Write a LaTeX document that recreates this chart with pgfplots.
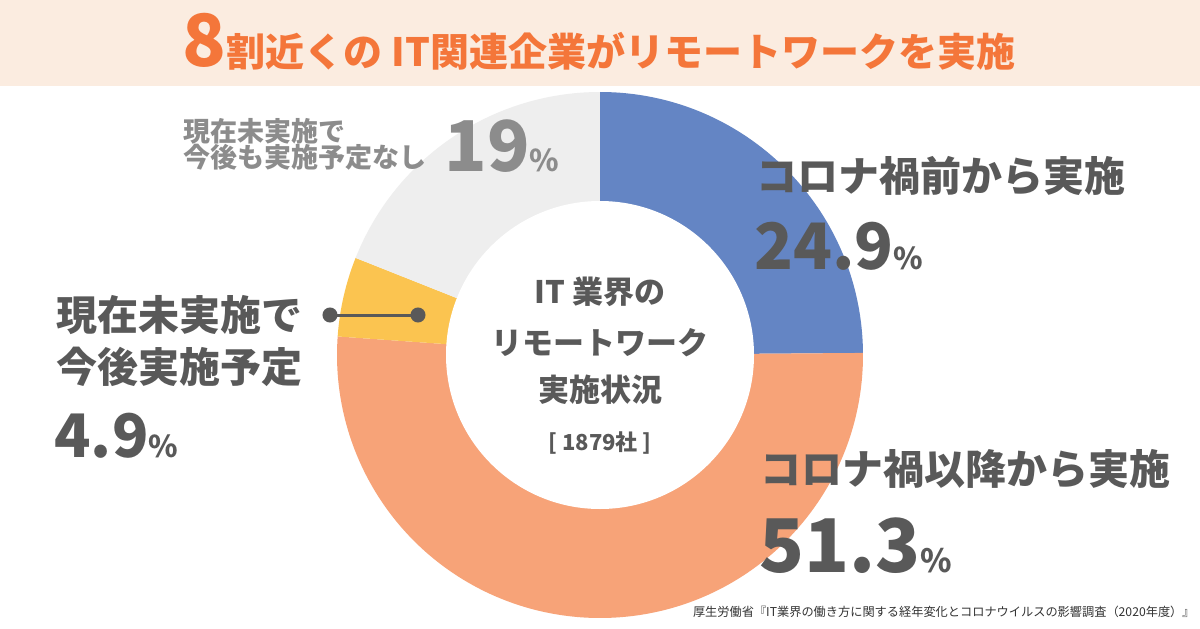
\documentclass[border=0pt]{standalone}
\usepackage{fontspec}
\setmainfont{Noto Sans CJK JP}
\usepackage{pgfplots}
\pgfplotsset{compat=1.18}
\definecolor{cblue}{HTML}{6485C4}
\definecolor{corange}{HTML}{F7A378}
\definecolor{cyellow}{HTML}{FBC450}
\definecolor{cgray}{HTML}{EEEEEE}
\definecolor{band}{HTML}{FBECE0}
\definecolor{ttl}{HTML}{F4763A}
\definecolor{dark}{HTML}{595959}
\definecolor{mid}{HTML}{8C8C8C}
% slice values (percent)
\def\vA{24.9}\def\vB{51.3}\def\vC{4.9}\def\vD{19}
\pgfmathsetmacro\tot{\vA+\vB+\vC+\vD}
\pgfmathsetmacro\aA{90}
\pgfmathsetmacro\aB{\aA-\vA/\tot*360}
\pgfmathsetmacro\aC{\aB-\vB/\tot*360}
\pgfmathsetmacro\aD{\aC-\vC/\tot*360}
\pgfmathsetmacro\aE{\aD-\vD/\tot*360}
\begin{document}%
\begin{tikzpicture}
\begin{axis}[x=0.5pt,y=0.5pt,xmin=0,xmax=1200,ymin=0,ymax=628,
  enlargelimits=false,hide axis,scale only axis,clip=false]
\coordinate (bl) at (axis cs:0,0);
\coordinate (tr) at (axis cs:1200,628);
\fill[white] (axis cs:0,0) rectangle (axis cs:1200,628);
\fill[band] (axis cs:0,542) rectangle (axis cs:1200,628);
% donut
\fill[cblue] (axis cs:600,273) -- ++(\aA:131.5pt) arc[start angle=\aA,end angle=\aB,radius=131.5pt] -- cycle;
\fill[corange] (axis cs:600,273) -- ++(\aB:131.5pt) arc[start angle=\aB,end angle=\aC,radius=131.5pt] -- cycle;
\fill[cyellow] (axis cs:600,273) -- ++(\aC:131.5pt) arc[start angle=\aC,end angle=\aD,radius=131.5pt] -- cycle;
\fill[cgray] (axis cs:600,273) -- ++(\aD:131.5pt) arc[start angle=\aD,end angle=\aE,radius=131.5pt] -- cycle;
\fill[white] (axis cs:600,273) circle[radius=77pt];
% connector
\addplot[color=dark,line width=1.5pt,mark=*,mark size=3pt,mark options={fill=dark}] coordinates {(330,313) (418,313)};
% title
\node[anchor=base,text=ttl,inner sep=0pt] at (axis cs:599,561)
 {\bfseries{\fontsize{36}{40}\selectfont 8}\fontsize{19.5}{24}\selectfont 割近くの IT関連企業がリモートワークを実施};
% center text
\node[text=dark,inner sep=0pt] at (axis cs:600,336) {\fontsize{15.5}{18}\selectfont\bfseries IT 業界の};
\node[text=dark,inner sep=0pt] at (axis cs:600,285) {\fontsize{15.5}{18}\selectfont\bfseries リモートワーク};
\node[text=dark,inner sep=0pt] at (axis cs:600,238) {\fontsize{15.5}{18}\selectfont\bfseries 実施状況};
\node[text=dark,inner sep=0pt] at (axis cs:600,185) {\fontsize{11}{13}\selectfont\bfseries [ 1879社 ]};
% right labels
\node[anchor=west,text=dark,inner sep=0pt] at (axis cs:756,452) {\fontsize{20.5}{24}\selectfont\bfseries コロナ禍前から実施};
\node[anchor=base west,text=dark,inner sep=0pt] at (axis cs:754,358) {\bfseries\fontsize{32}{36}\selectfont 24.9\fontsize{15}{18}\selectfont\%};
\node[anchor=west,text=dark,inner sep=0pt] at (axis cs:760,159) {\fontsize{20.5}{24}\selectfont\bfseries コロナ禍以降から実施};
\node[anchor=base west,text=dark,inner sep=0pt] at (axis cs:759,56) {\bfseries\fontsize{37}{40}\selectfont 51.3\fontsize{16}{18}\selectfont\%};
% left labels
\node[anchor=west,text=dark,inner sep=0pt] at (axis cs:56,313) {\fontsize{20.5}{24}\selectfont\bfseries 現在未実施で};
\node[anchor=west,text=dark,inner sep=0pt] at (axis cs:56,261) {\fontsize{20.5}{24}\selectfont\bfseries 今後実施予定};
\node[anchor=base west,text=dark,inner sep=0pt] at (axis cs:54,171) {\bfseries{\fontsize{30}{34}\selectfont 4.9}{\fontsize{15}{18}\selectfont\%}};
% top-left labels
\node[anchor=west,text=mid,inner sep=0pt] at (axis cs:183,497) {\fontsize{13.5}{16}\selectfont\bfseries 現在未実施で};
\node[anchor=west,text=mid,inner sep=0pt] at (axis cs:183,471) {\fontsize{13.5}{16}\selectfont\bfseries 今後も実施予定なし};
\node[anchor=base west,text=mid,inner sep=0pt] at (axis cs:444,457) {\bfseries\fontsize{35}{38}\selectfont 19\fontsize{15}{18}\selectfont\%};
% source
\node[anchor=east,text=black!80,inner sep=0pt] at (axis cs:1195,16) {\fontsize{6.1}{8}\selectfont 厚生労働省『IT業界の働き方に関する経年変化とコロナウイルスの影響調査（2020年度）』};
\end{axis}
\pgfresetboundingbox
\useasboundingbox (bl) rectangle (tr);
\end{tikzpicture}%
\end{document}
